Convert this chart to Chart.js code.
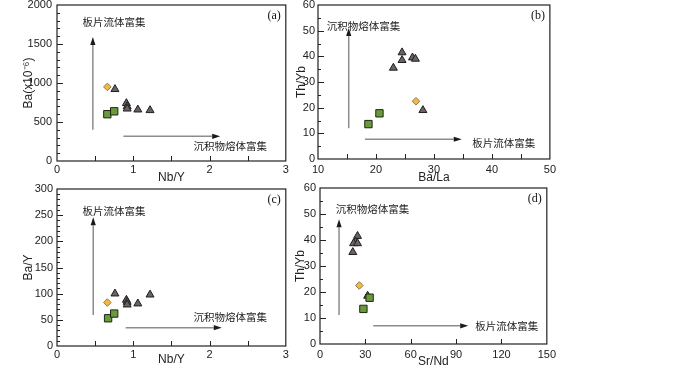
<!DOCTYPE html>
<html>
<head>
<meta charset="utf-8">
<script src="https://cdn.jsdelivr.net/npm/chart.js@4.4.1/dist/chart.umd.min.js"></script>
<style>
  body { margin: 0; width: 700px; height: 365px; overflow: hidden; background: #fff; position: relative; }
  canvas { position: absolute; }
</style>
</head>
<body>
<canvas id="pa" width="292" height="200" style="left:0;top:-15px"></canvas>
<canvas id="pb" width="270" height="200" style="left:290px;top:-15px"></canvas>
<canvas id="pc" width="292" height="190" style="left:0;top:175px"></canvas>
<canvas id="pd" width="270" height="190" style="left:290px;top:175px"></canvas>
<script>
// triangles (6 samples)
const triNbY = [0.76, 0.91, 0.92, 0.92, 1.06, 1.22];
const triBa = [920, 740, 700, 670, 658, 650];
const triBaY = [100, 88, 84, 79, 81, 98];
const triBaLa = [23.0, 24.5, 24.5, 26.3, 26.8, 28.1];
const triThYbB = [35.5, 41.5, 38.5, 39.5, 39.0, 19.0];
const triSrNd = [21.7, 24.8, 23.5, 22.2, 24.8, 31.5];
const triThYbD = [35.3, 41.5, 39.3, 38.7, 38.7, 18.5];

// diamond (1 sample)
const dmNbY = [0.66];
const dmBa = [950];
const dmBaY = [83];
const dmBaLa = [26.9];
const dmThYbB = [22.5];
const dmSrNd = [26.0];
const dmThYbD = [22.5];

// squares (2 samples)
const sqNbYA = [0.66, 0.75];
const sqBa = [600, 637];
const sqNbYC = [0.67, 0.75];
const sqBaY = [53, 62];
const sqBaLa = [18.7, 20.6];
const sqThYbB = [13.6, 17.8];
const sqSrNd = [28.7, 32.8];
const sqThYbD = [13.5, 17.8];

// tick labels
const ticksNbY = [0, 1, 2, 3];
const ticksBa = [0, 500, 1000, 1500, 2000];
const ticksBaY = [0, 50, 100, 150, 200, 250, 300];
const ticksBaLa = [10, 20, 30, 40, 50];
const ticksThYb = [0, 10, 20, 30, 40, 50, 60];
const ticksSrNd = [0, 30, 60, 90, 120, 150];

const SLAB = '板片流体富集';
const SED = '沉积物熔体富集';

const pts = (xs, ys) => xs.map((x, i) => ({x: x, y: ys[i]}));

// box, inward ticks, arrows, notes, panel label
const framePlugin = {
  id: 'frame',
  beforeDatasetsDraw(chart, args, o) {
    const ctx = chart.ctx, xs = chart.scales.x, ys = chart.scales.y;
    ctx.save();
    (o.arrows || []).forEach(a => {
      const x1 = xs.getPixelForValue(a[0]), y1 = ys.getPixelForValue(a[1]);
      const x2 = xs.getPixelForValue(a[2]), y2 = ys.getPixelForValue(a[3]);
      const ang = Math.atan2(y2 - y1, x2 - x1), hl = 8, hw = 2.6;
      const bx = x2 - Math.cos(ang) * hl, by = y2 - Math.sin(ang) * hl;
      ctx.strokeStyle = '#8c8c8c';
      ctx.lineWidth = 1.5;
      ctx.beginPath(); ctx.moveTo(x1, y1); ctx.lineTo(bx, by); ctx.stroke();
      ctx.fillStyle = '#1a1a1a';
      ctx.beginPath();
      ctx.moveTo(x2, y2);
      ctx.lineTo(bx + Math.sin(ang) * hw, by - Math.cos(ang) * hw);
      ctx.lineTo(bx - Math.sin(ang) * hw, by + Math.cos(ang) * hw);
      ctx.closePath(); ctx.fill();
    });
    ctx.fillStyle = '#222';
    ctx.font = '10.5px "Noto Sans CJK SC"';
    ctx.textAlign = 'left';
    ctx.textBaseline = 'middle';
    (o.notes || []).forEach(n => {
      ctx.fillText(n[2], xs.getPixelForValue(n[0]), ys.getPixelForValue(n[1]));
    });
    ctx.restore();
  },
  afterDraw(chart, args, o) {
    const ctx = chart.ctx, ca = chart.chartArea, xs = chart.scales.x, ys = chart.scales.y;
    ctx.save();
    ctx.strokeStyle = '#222';
    ctx.lineWidth = 1.2;
    ctx.strokeRect(ca.left, ca.top, ca.right - ca.left, ca.bottom - ca.top);
    ctx.lineWidth = 1;
    const tick = (scale, step, len) => {
      if (!step) return;
      for (let v = scale.min + step; v < scale.max - step / 10; v += step) {
        const p = Math.round(scale.getPixelForValue(v)) + 0.5;
        ctx.beginPath();
        if (scale.axis === 'x') { ctx.moveTo(p, ca.bottom); ctx.lineTo(p, ca.bottom - len); }
        else { ctx.moveTo(ca.left, p); ctx.lineTo(ca.left + len, p); }
        ctx.stroke();
      }
    };
    tick(xs, o.xMinor, 3); tick(xs, o.xMajor, 5);
    tick(ys, o.yMinor, 3); tick(ys, o.yMajor, 6);
    ctx.fillStyle = '#111';
    ctx.font = '12px "Liberation Serif"';
    ctx.textAlign = 'right';
    ctx.textBaseline = 'middle';
    ctx.fillText(o.label, ca.right - 5, ca.top + 11);
    ctx.restore();
  }
};

function panel(id, g, xOpt, yOpt, sets, frame) {
  const tickFont = {family: '"Liberation Sans", Arial', size: 11};
  const titleFont = {family: '"Liberation Sans", Arial', size: 12};
  new Chart(document.getElementById(id), {
    type: 'scatter',
    data: {
      datasets: [
        {data: sets.sq, pointStyle: 'rect', pointRadius: 5.2, backgroundColor: '#6a9a3c', borderColor: '#1c2812', borderWidth: 1},
        {data: sets.dm, pointStyle: 'rectRot', pointRadius: 3.8, backgroundColor: '#f6b73c', borderColor: '#8a7a5a', borderWidth: 1},
        {data: sets.tri, pointStyle: 'triangle', pointRadius: 4.6, backgroundColor: '#6c6264', borderColor: '#1e1e1e', borderWidth: 1}
      ]
    },
    options: {
      responsive: false,
      animation: false,
      layout: {padding: {top: g.padTop, right: g.padRight, left: 0, bottom: 0}},
      plugins: {legend: {display: false}, tooltip: {enabled: false}, frame: frame},
      scales: {
        x: {
          type: 'linear', min: xOpt.min, max: xOpt.max,
          grid: {display: false, drawTicks: false}, border: {display: false},
          afterBuildTicks: s => { s.ticks = xOpt.ticks.map(v => ({value: v})); },
          afterFit: s => { s.height = g.xh; },
          ticks: {font: tickFont, color: '#222', padding: g.xPad, maxRotation: 0, callback: v => String(v)},
          title: {display: true, text: xOpt.title, font: titleFont, color: '#222', padding: {top: 0, bottom: g.xtPad}}
        },
        y: {
          type: 'linear', min: yOpt.min, max: yOpt.max,
          grid: {display: false, drawTicks: false}, border: {display: false},
          afterBuildTicks: s => { s.ticks = yOpt.ticks.map(v => ({value: v})); },
          afterFit: s => { s.width = g.yw; },
          ticks: {font: tickFont, color: '#222', padding: g.yPad, callback: v => String(v)},
          title: {display: true, text: yOpt.title, font: titleFont, color: '#222', padding: {top: g.ytPad, bottom: 0}}
        }
      }
    },
    plugins: [framePlugin]
  });
}

panel('pa', {padTop: 20, padRight: 4, xh: 24, yw: 57, xPad: 2, yPad: 5, xtPad: 0, ytPad: 21},
  {min: 0, max: 3, ticks: ticksNbY, title: 'Nb/Y'},
  {min: 0, max: 2000, ticks: ticksBa, title: 'Ba(x10⁻⁶)'},
  {tri: pts(triNbY, triBa), dm: pts(dmNbY, dmBa), sq: pts(sqNbYA, sqBa)},
  {label: '(a)', xMajor: 0.5, yMajor: 500, yMinor: 100,
   arrows: [[0.47, 400, 0.47, 1590], [0.87, 316, 2.14, 316]],
   notes: [[0.335, 1785, SLAB], [1.79, 196, SED]]});

panel('pb', {padTop: 20, padRight: 10, xh: 26, yw: 28, xPad: 4, yPad: 3, xtPad: 0, ytPad: 4},
  {min: 10, max: 50, ticks: ticksBaLa, title: 'Ba/La'},
  {min: 0, max: 60, ticks: ticksThYb, title: 'Th/Yb'},
  {tri: pts(triBaLa, triThYbB), dm: pts(dmBaLa, dmThYbB), sq: pts(sqBaLa, sqThYbB)},
  {label: '(b)', xMajor: 5, yMajor: 10, yMinor: 5,
   arrows: [[15.3, 12, 15.3, 51], [18.1, 7.7, 34.8, 7.7]],
   notes: [[11.5, 52, SED], [36.6, 6.1, SLAB]]});

panel('pc', {padTop: 14, padRight: 4, xh: 19, yw: 57, xPad: 2, yPad: 4, xtPad: -2, ytPad: 21},
  {min: 0, max: 3, ticks: ticksNbY, title: 'Nb/Y'},
  {min: 0, max: 300, ticks: ticksBaY, title: 'Ba/Y'},
  {tri: pts(triNbY, triBaY), dm: pts(dmNbY, dmBaY), sq: pts(sqNbYC, sqBaY)},
  {label: '(c)', xMajor: 0.5, yMajor: 50, yMinor: 10,
   arrows: [[0.475, 59, 0.475, 246], [0.9, 35, 2.16, 35]],
   notes: [[0.335, 258, SLAB], [1.79, 55, SED]]});

panel('pd', {padTop: 13, padRight: 10, xh: 21, yw: 30, xPad: 4, yPad: 4, xtPad: -4, ytPad: 3},
  {min: 0, max: 150, ticks: ticksSrNd, title: 'Sr/Nd'},
  {min: 0, max: 60, ticks: ticksThYb, title: 'Th/Yb'},
  {tri: pts(triSrNd, triThYbD), dm: pts(dmSrNd, dmThYbD), sq: pts(sqSrNd, sqThYbD)},
  {label: '(d)', xMajor: 30, yMajor: 10, yMinor: 5,
   arrows: [[12.6, 11.2, 12.6, 48], [35.2, 7, 98, 7]],
   notes: [[10.4, 51.8, SED], [102.6, 7, SLAB]]});
</script>
</body>
</html>
